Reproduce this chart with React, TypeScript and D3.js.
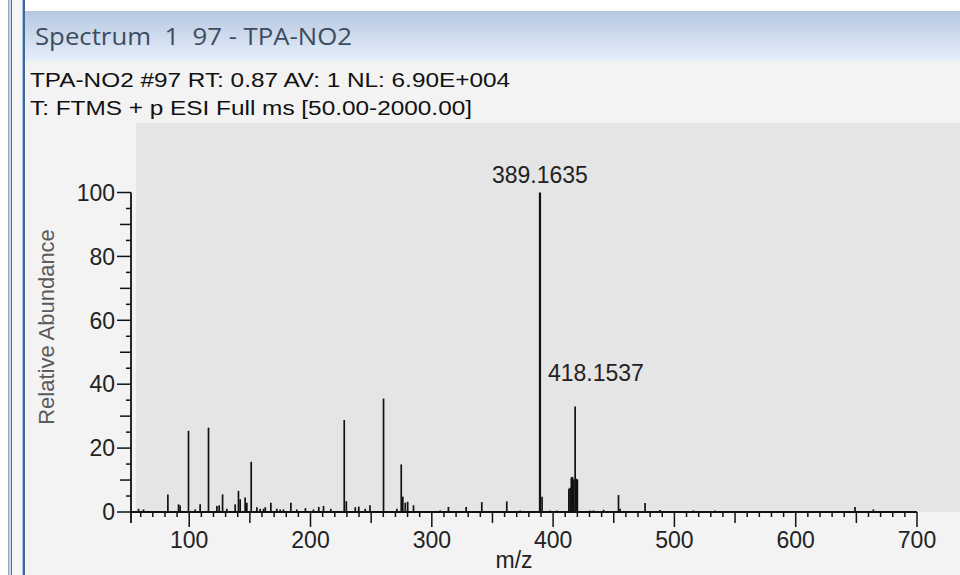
import * as d3 from 'd3';
import React from 'react';

// --------------------------------------------------------
// text of the window
// --------------------------------------------------------
const titleText = 'Spectrum  1  97 - TPA-NO2';
const headerLines = [
  'TPA-NO2 #97 RT: 0.87 AV: 1 NL: 6.90E+004',
  'T: FTMS + p ESI Full ms [50.00-2000.00]',
];

// --------------------------------------------------------
// centroid sticks (m/z, relative abundance %)
// --------------------------------------------------------
const peakMz = [
  58.2, 62.3, 82.4, 91.2, 92.5, 99.4, 104.9, 109.0, 115.9, 122.8,
  124.7, 127.5, 131.0, 137.9, 140.6, 142.0, 146.1, 147.5, 151.1, 155.8,
  158.5, 161.3, 162.7, 167.3, 172.2, 175.0, 177.7, 183.8, 188.7, 195.8,
  202.4, 206.8, 210.7, 216.7, 227.8, 229.5, 236.9, 239.8, 245.1, 249.0,
  260.2, 271.2, 274.8, 276.1, 278.1, 280.1, 284.9, 306.9, 313.7, 328.3,
  341.2, 361.8, 372.8, 389.1635, 390.9, 397.5, 403.1, 413.0, 414.0, 415.0,
  416.0, 417.0, 418.1537, 419.1, 420.0, 430.5, 433.3, 441.6, 453.9, 455.2,
  475.8, 488.2, 515.6, 533.5, 648.9, 664.0,
];
const peakAbundance = [
  1.0, 0.8, 5.5, 2.4, 2.0, 25.4, 0.8, 2.4, 26.4, 1.9,
  2.1, 5.5, 1.0, 2.4, 6.6, 4.0, 4.5, 2.9, 15.7, 1.5,
  1.0, 1.0, 1.5, 2.9, 1.0, 0.8, 0.8, 2.9, 0.8, 1.2,
  0.8, 1.6, 1.9, 1.0, 28.8, 3.4, 1.5, 1.7, 1.0, 2.1,
  35.5, 1.0, 14.9, 4.8, 2.9, 3.2, 2.1, 0.5, 1.6, 1.6,
  3.1, 3.3, 0.5, 100, 4.8, 0.5, 0.5, 7.3, 7.6, 10.8,
  11.0, 10.2, 33.0, 10.4, 10.2, 0.5, 0.5, 0.7, 5.3, 1.0,
  2.8, 0.6, 0.5, 0.5, 1.6, 0.8,
];

// labelled peaks
const labelMz = [389.1635, 418.1537];
const labelText = ['389.1635', '418.1537'];

// axis ticks
const xTickValues = [100, 200, 300, 400, 500, 600, 700];
const yTickValues = [0, 20, 40, 60, 80, 100];

const W = 960;
const H = 575;
const axisFont = '"Liberation Sans", Arial, sans-serif';

function App() {
  // scales fitted to the screenshot's frame
  const x = d3.scaleLinear().domain([52, 700]).range([131, 917]);
  const y = d3.scaleLinear().domain([0, 100]).range([512, 192.5]);

  const minorX = d3.range(60, 700, 10).filter(v => v % 50 !== 0);
  const halfX = d3.range(150, 700, 100);
  const minorY = d3.range(5, 100, 5).filter(v => v % 20 !== 0);

  const peaks = peakMz.map((mz, i) => ({ mz, ab: peakAbundance[i] }));
  const base = y(0);

  return (
    <svg width={W} height={H} style={{ position: 'fixed', left: 0, top: 0 }}>
      <defs>
        <linearGradient id="titleGrad" x1="0" y1="0" x2="0" y2="1">
          <stop offset="0" stopColor="#b6c8e0" />
          <stop offset="1" stopColor="#e6eefb" />
        </linearGradient>
      </defs>
      <rect width={W} height={H} fill="#ffffff" />

      {/* window frame */}
      <rect x={8} y={0} width={1} height={H} fill="#9aa6b6" />
      <rect x={9} y={0} width={2} height={H} fill="#c6d5ea" />
      <rect x={11} y={0} width={1} height={H} fill="#4d74ab" />
      <rect x={12} y={0} width={10} height={H} fill="#f6f6f6" />
      <rect x={22} y={0} width={1} height={H} fill="#a9c0de" />
      <rect x={23} y={0} width={2} height={H} fill="#3f689f" />

      <rect x={25} y={11} width={W - 25} height={50} fill="url(#titleGrad)" />
      <rect x={25} y={61} width={W - 25} height={H - 61} fill="#f3f3f3" />
      <text x={35} y={45} fontFamily='"Open Sans", "Noto Sans", sans-serif' fontSize={23}
        fill="#3d4c5e" textLength={317} lengthAdjust="spacingAndGlyphs"
        style={{ whiteSpace: 'pre' }}>{titleText}</text>

      {headerLines.map((t, i) => (
        <text key={t} x={30} y={87 + i * 28} fontFamily={axisFont} fontSize={20} fill="#111"
          textLength={i === 0 ? 480 : 442} lengthAdjust="spacingAndGlyphs">{t}</text>
      ))}

      {/* plot area */}
      <rect x={136} y={123} width={W - 136} height={base - 123} fill="#e5e5e5" />

      {/* sticks */}
      {peaks.map((p, i) => (
        <line key={i} x1={x(p.mz)} x2={x(p.mz)} y1={base} y2={y(p.ab)}
          stroke="#111" strokeWidth={p.ab > 50 ? 2.2 : 1.7} />
      ))}

      {/* x axis */}
      <line x1={x(52)} x2={x(700)} y1={base} y2={base} stroke="#111" strokeWidth={2} />
      {minorX.map(v => (
        <line key={'mx' + v} x1={x(v)} x2={x(v)} y1={base} y2={base + 5} stroke="#111" strokeWidth={1.5} />
      ))}
      {halfX.map(v => (
        <line key={'hx' + v} x1={x(v)} x2={x(v)} y1={base} y2={base + 11} stroke="#111" strokeWidth={1.5} />
      ))}
      {xTickValues.map(v => (
        <g key={'x' + v}>
          <line x1={x(v)} x2={x(v)} y1={base} y2={base + 15} stroke="#111" strokeWidth={1.5} />
          <text x={x(v)} y={548} textAnchor="middle" fontFamily={axisFont} fontSize={23} fill="#222">{v}</text>
        </g>
      ))}
      <text x={514} y={568} textAnchor="middle" fontFamily={axisFont} fontSize={23} fill="#222">m/z</text>

      {/* y axis */}
      <line x1={131} x2={131} y1={y(100)} y2={base + 11} stroke="#111" strokeWidth={1.8} />
      {minorY.map(v => (
        <line key={'my' + v} x1={131 - (v % 10 === 0 ? 11 : 5)} x2={131} y1={y(v)} y2={y(v)}
          stroke="#111" strokeWidth={1.5} />
      ))}
      {yTickValues.map(v => (
        <g key={'y' + v}>
          <line x1={117} x2={131} y1={y(v)} y2={y(v)} stroke="#111" strokeWidth={1.5} />
          <text x={115} y={y(v)} dy="0.36em" textAnchor="end" fontFamily={axisFont} fontSize={23} fill="#222">{v}</text>
        </g>
      ))}
      <text transform="translate(54,327) rotate(-90)" textAnchor="middle" fontFamily={axisFont}
        fontSize={22} fill="#5a5a5a">Relative Abundance</text>

      {/* peak labels: the base peak on top, the second one beside it */}
      <text x={x(labelMz[0])} y={y(100) - 10} textAnchor="middle" fontFamily={axisFont}
        fontSize={23} fill="#222">{labelText[0]}</text>
      <text x={x(labelMz[0]) + 8} y={y(41)} textAnchor="start" fontFamily={axisFont}
        fontSize={23} fill="#222">{labelText[1]}</text>
    </svg>
  );
}

export default App;
